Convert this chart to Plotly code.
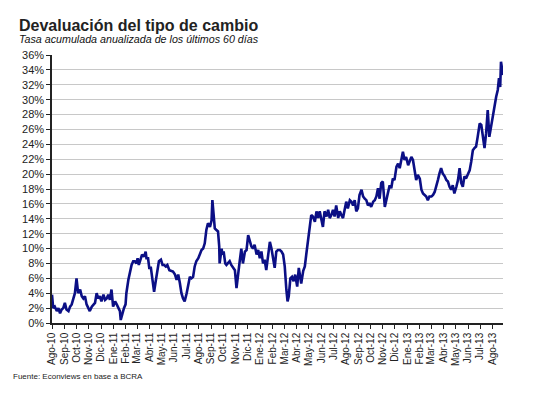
import pandas as pd
import plotly.graph_objects as go

base_date = "2010-08-01"

day_offsets = [
    0, 3, 7, 12, 16, 20, 24, 28, 32, 36, 41, 45, 49, 53, 57, 61, 65, 70, 74, 78,
    82, 86, 90, 94, 99, 103, 107, 111, 115, 119, 123, 128, 132, 136, 140, 144, 148, 152, 157, 161,
    165, 169, 171, 175, 179, 183, 185, 190, 194, 198, 202, 206, 210, 213, 216, 220, 224, 229, 233, 235,
    239, 242, 246, 250, 254, 258, 262, 266, 271, 275, 279, 283, 287, 292,
    301, 306, 310, 314, 318, 322, 326, 330, 335, 339, 343, 347, 351, 355, 359, 364, 368, 372, 376, 380,
    384, 388, 393, 397, 399, 403, 405, 409, 413, 416, 417, 422, 424, 427, 431, 434, 438, 442, 446, 451,
    455, 459, 463, 467, 471, 475, 480, 484, 488, 492, 496, 500, 504, 509, 513, 517, 521, 525, 529, 533,
    538, 542, 546, 550, 554, 558, 562, 567, 571, 575, 579, 583, 586, 589, 593, 597, 601, 605, 610, 614,
    620,
    625, 629, 633, 637, 641, 645, 649, 654, 658, 662, 666, 670, 674, 678, 683, 687, 691, 695, 699, 703,
    707, 712, 716, 720, 724, 728, 732, 736, 741, 745, 749, 753, 757, 761, 765, 770, 774, 778, 782, 786,
    790, 794, 799, 803, 807, 811, 815, 819, 823, 828, 832, 836, 840, 844, 848, 852, 857, 861, 865,
    869, 873, 877, 881, 886, 890, 894, 898, 902, 906, 910, 915, 919, 923, 927, 931, 935, 939, 944, 948,
    952, 956, 960, 964, 968, 972, 977, 981, 985, 989, 993, 997, 1001, 1006, 1010, 1014, 1018, 1022, 1026, 1030,
    1035, 1039, 1043, 1047, 1051, 1055, 1059, 1064, 1068, 1072, 1076, 1080, 1084, 1088, 1093, 1097, 1101, 1105, 1109,
    1112, 1115, 1117, 1122,
]

# annualised 60-day devaluation rate, %
tasa = [
    3.8, 2.0, 2.2, 1.6, 2.0, 1.3, 1.8, 2.0, 2.7, 1.8, 1.6, 2.2, 2.5, 3.1, 4.0, 6.0, 4.0, 4.5, 3.6, 3.3,
    3.6, 2.5, 2.0, 1.6, 2.2, 2.5, 2.7, 4.0, 3.3, 3.6, 2.9, 3.8, 3.1, 3.3, 3.8, 3.1, 4.5, 2.2, 2.9, 2.5,
    2.0, 1.6, 0.4, 1.3, 2.0, 2.5, 4.0, 5.8, 6.9, 7.8, 8.3, 8.3, 8.0, 8.7, 7.8, 8.7, 9.2, 8.9, 9.6, 8.7,
    8.7, 7.4, 7.4, 5.8, 4.2, 5.6, 7.1, 8.3, 8.5, 7.8, 7.8, 7.6, 7.8, 7.1,
    6.9, 6.5, 5.8, 6.5, 5.4, 4.0, 3.3, 2.9, 4.0, 5.4, 6.2, 6.0, 6.2, 7.6, 8.3, 8.7, 9.2, 9.8, 10.0, 10.7,
    12.5, 13.4, 12.9, 13.8, 16.5, 14.3, 12.7, 12.5, 12.3, 10.3, 8.0, 10.0, 9.2, 9.6, 8.0, 7.8, 8.0, 8.3, 7.8, 7.4,
    7.1, 4.7, 6.2, 8.3, 10.0, 8.0, 9.6, 9.8, 11.8, 10.9, 10.3, 10.0, 10.5, 9.2, 9.8, 8.7, 9.6, 8.0, 8.5, 7.1,
    9.6, 10.9, 10.0, 8.5, 7.4, 9.6, 9.8, 9.8, 9.6, 9.2, 7.6, 4.5, 2.9, 3.6, 6.0, 6.2, 5.6, 6.5, 4.9, 7.4,
    5.3,
    7.0, 7.6, 9.4, 11.1, 13.4, 14.5, 14.3, 13.6, 15.0, 14.1, 15.0, 14.1, 12.9, 15.0, 14.3, 15.2, 14.1, 14.5, 15.2, 14.3,
    15.8, 14.1, 15.0, 14.5, 14.1, 15.2, 16.3, 15.4, 16.5, 16.3, 15.8, 16.5, 15.0, 15.4, 17.2, 17.9, 17.0, 16.7, 16.5, 15.8,
    16.1, 15.6, 16.3, 16.5, 17.0, 18.1, 16.7, 18.8, 19.0, 15.6, 16.7, 17.4, 18.5, 18.1, 19.4, 19.2, 21.0, 21.4, 20.8,
    21.9, 23.0, 21.9, 22.3, 21.2, 21.9, 22.3, 21.9, 20.5, 19.2, 19.9, 19.4, 17.9, 17.4, 17.2, 17.0, 16.5, 17.0, 17.0, 17.2,
    17.6, 18.3, 19.2, 20.1, 20.8, 20.1, 19.7, 19.2, 19.0, 18.3, 17.9, 18.5, 17.4, 18.3, 19.2, 20.8, 18.8, 18.3, 19.7, 19.4,
    20.1, 20.5, 21.7, 23.2, 23.5, 23.7, 25.0, 26.8, 26.6, 25.0, 23.5, 25.5, 28.6, 25.0, 26.6, 28.2, 29.1, 30.4, 31.3,
    32.9, 31.7, 35.1, 33.3,
]

month_labels = [
    "Ago-10", "Sep-10", "Oct-10", "Nov-10", "Dic-10", "Ene-11", "Feb-11", "Mar-11", "Abr-11",
    "May-11", "Jun-11", "Jul-11", "Ago-11", "Sep-11", "Oct-11", "Nov-11", "Dic-11", "Ene-12",
    "Feb-12", "Mar-12", "Abr-12", "May-12", "Jun-12", "Jul-12", "Ago-12", "Sep-12", "Oct-12",
    "Nov-12", "Dic-12", "Ene-13", "Feb-13", "Mar-13", "Abr-13", "May-13", "Jun-13", "Jul-13",
    "Ago-13",
]

title_text = "Devaluación del tipo de cambio"
subtitle_text = "Tasa acumulada anualizada de los últimos 60 días"
source_text = "Fuente: Econviews en base a BCRA"

dates = pd.Timestamp(base_date) + pd.to_timedelta(day_offsets, unit="D")
tick_dates = pd.date_range(base_date, periods=len(month_labels), freq="MS")

fig = go.Figure()
fig.add_trace(go.Scatter(
    x=dates, y=tasa, mode="lines",
    line=dict(color="#0b0f85", width=2.6),
    showlegend=False, hoverinfo="skip",
))

# page has an 8px body margin; size the figure so it fits the 533x395 window
OFF = 8
W, H = 533 - OFF, 395 - OFF
L, R, T, B = 52 - OFF, 30, 55 - OFF, 72
pw, ph = W - L - R, H - T - B

def px(x):
    return (x - OFF - L) / pw

def py(y):
    return (H - B - (y - OFF)) / ph

fig.update_layout(
    width=W, height=H,
    margin=dict(l=L, r=R, t=T, b=B, autoexpand=False),
    paper_bgcolor="white", plot_bgcolor="white",
    font=dict(family="Liberation Sans, Arial, sans-serif", color="#111"),
    xaxis=dict(
        type="date",
        range=[dates[0], dates[-1]],
        tickmode="array", tickvals=tick_dates, ticktext=month_labels,
        tickangle=-90, tickfont=dict(size=10, color="#222"),
        showgrid=False, showline=True, linecolor="#222", linewidth=1.5,
        ticks="outside", ticklen=4, tickcolor="#222", zeroline=False,
        automargin=False,
    ),
    yaxis=dict(
        range=[0, 36], dtick=2, ticksuffix="%",
        tickfont=dict(size=11, color="#222", family="Liberation Sans, Arial, sans-serif"),
        showgrid=True, gridcolor="#c8c8c8", gridwidth=1,
        showline=True, linecolor="#222", linewidth=1.5,
        ticks="outside", ticklen=4, tickcolor="#222", zeroline=False,
        automargin=False,
    ),
    annotations=[
        dict(text="<b>" + title_text + "</b>", xref="paper", yref="paper",
             x=px(17), y=py(25), xanchor="left", yanchor="middle", showarrow=False,
             font=dict(size=16, color="#222")),
        dict(text="<i>" + subtitle_text + "</i>", xref="paper", yref="paper",
             x=px(17), y=py(39), xanchor="left", yanchor="middle", showarrow=False,
             font=dict(size=10.7, color="#111")),
        dict(text=source_text, xref="paper", yref="paper",
             x=px(11), y=py(376), xanchor="left", yanchor="middle", showarrow=False,
             font=dict(size=8, color="#222")),
    ],
)

fig.write_html("out.html")
